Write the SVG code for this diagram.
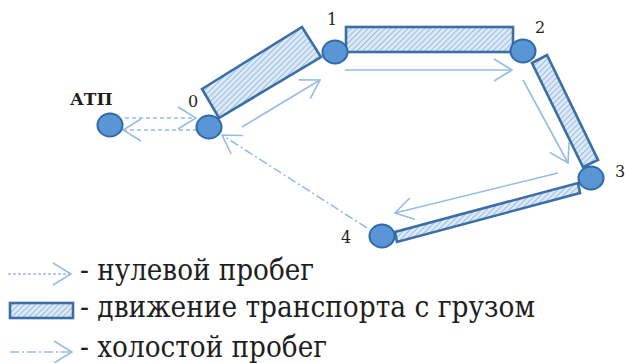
<svg xmlns="http://www.w3.org/2000/svg" width="625" height="363" viewBox="0 0 625 363">
  <style>
    .node { fill: #5a96d6; stroke: #2f6aa6; stroke-width: 2; }
    .cargo { fill: url(#hatch); stroke: #3a6ea5; stroke-width: 2.6; stroke-linejoin: miter; }
    .run { fill: none; stroke: #95bce4; stroke-width: 1.6; }
    .zero { stroke-dasharray: 4 3; }
    .idle { stroke-dasharray: 9 3 2 3; }
    .num { font-size: 16px; }
    .leg { font-size: 30px; }
  </style>
  <defs>
    <pattern id="hatch" patternUnits="userSpaceOnUse" width="4" height="4" patternTransform="rotate(45)">
      <rect width="4" height="4" fill="#dce9f7"/>
      <line x1="0" y1="0" x2="0" y2="4" stroke="#7fa9da" stroke-width="1.4"/>
    </pattern>
    <marker id="chev" viewBox="0 0 20 24" refX="19" refY="12" markerWidth="20" markerHeight="24" markerUnits="userSpaceOnUse" orient="auto">
      <path d="M1,1 L19,12 L1,23" fill="none" stroke="#95bce4" stroke-width="1.6"/>
    </marker>
  </defs>

  <!-- loaded trips (hatched bars) -->
  <g id="cargo-0-1"><polygon class="cargo" points="202,89 302,27 321,57 219,118"/></g>
  <g id="cargo-1-2"><rect class="cargo" x="346" y="27" width="167" height="25"/></g>
  <g id="cargo-2-3"><polygon class="cargo" points="532,63 547,55 598,160 583,167"/></g>
  <g id="cargo-3-4"><polygon class="cargo" points="578,183 580,193 397,242 395,232"/></g>

  <!-- run arrows -->
  <g id="connectors">
    <line class="run zero" x1="125" y1="118" x2="196" y2="118" marker-end="url(#chev)"/>
    <line class="run zero" x1="197" y1="130" x2="123" y2="130" marker-end="url(#chev)"/>
    <line class="run" x1="242" y1="127" x2="320" y2="80" marker-end="url(#chev)"/>
    <line class="run" x1="345" y1="70" x2="512" y2="70" marker-end="url(#chev)"/>
    <line class="run" x1="523" y1="80" x2="568" y2="163" marker-end="url(#chev)"/>
    <line class="run" x1="558" y1="173" x2="395" y2="213" marker-end="url(#chev)"/>
    <line class="run idle" x1="367" y1="228" x2="222" y2="135" marker-end="url(#chev)"/>
  </g>

  <g font-family="DejaVu Serif, Liberation Serif, serif" fill="#1e1e1e">
    <!-- points -->
    <g id="atp">
      <ellipse class="node" cx="110" cy="125" rx="12.5" ry="11.5"/>
      <text x="70" y="105" font-size="17" font-weight="bold">АТП</text>
    </g>
    <g id="p0">
      <ellipse class="node" cx="209" cy="127" rx="12.5" ry="11.5"/>
      <text class="num" x="188" y="107">0</text>
    </g>
    <g id="p1">
      <ellipse class="node" cx="335" cy="52" rx="12.5" ry="11.5"/>
      <text class="num" x="327" y="25">1</text>
    </g>
    <g id="p2">
      <ellipse class="node" cx="523" cy="51" rx="12.5" ry="11.5"/>
      <text class="num" x="535" y="33">2</text>
    </g>
    <g id="p3">
      <ellipse class="node" cx="591" cy="178" rx="12.5" ry="11.5"/>
      <text class="num" x="615" y="177">3</text>
    </g>
    <g id="p4">
      <ellipse class="node" cx="382" cy="236" rx="12.5" ry="11.5"/>
      <text class="num" x="341" y="243">4</text>
    </g>

    <!-- legend -->
    <g id="legend">
      <line class="run" x1="8" y1="274" x2="71" y2="274" stroke-dasharray="3 2" marker-end="url(#chev)"/>
      <text class="leg" x="80" y="280" textLength="234" lengthAdjust="spacingAndGlyphs">- нулевой пробег</text>
      <rect class="cargo" x="10" y="303" width="63" height="15" stroke-width="2"/>
      <text class="leg" x="80" y="317" textLength="455" lengthAdjust="spacingAndGlyphs">- движение транспорта с грузом</text>
      <line class="run idle" x1="10" y1="352" x2="72" y2="352" marker-end="url(#chev)"/>
      <text class="leg" x="80" y="357" textLength="247" lengthAdjust="spacingAndGlyphs">- холостой пробег</text>
    </g>
  </g>
</svg>
